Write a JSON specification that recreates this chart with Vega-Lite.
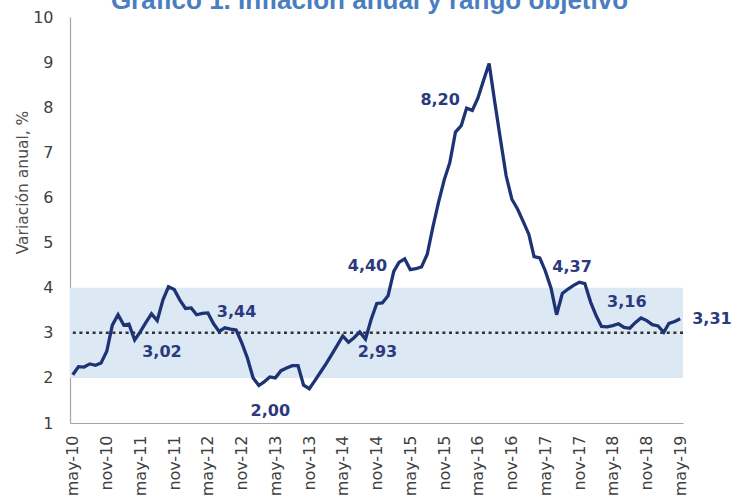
{
  "$schema": "https://vega.github.io/schema/vega-lite/v6.json",
  "autosize": {"type": "none"},
  "padding": {"left": 70, "top": 17, "right": 54, "bottom": 77},
  "width": 613,
  "height": 406,
  "background": "white",
  "title": {
    "text": "Gráfico 1. Inflación anual y rango objetivo",
    "font": "Liberation Sans",
    "fontSize": 26,
    "fontWeight": "bold",
    "color": "#4a7ebf",
    "anchor": "middle",
    "frame": "group",
    "baseline": "alphabetic",
    "offset": -26,
    "dx": -7
  },
  "config": {
    "view": {"stroke": null},
    "locale": {
      "number": {"decimal": ",", "thousands": ".", "grouping": [3], "currency": ["", ""]}
    }
  },
  "data": {
    "values": [
      {"date": "2010-05", "v": 2.07}, {"date": "2010-06", "v": 2.25}, {"date": "2010-07", "v": 2.24}, {"date": "2010-08", "v": 2.31},
      {"date": "2010-09", "v": 2.28}, {"date": "2010-10", "v": 2.33}, {"date": "2010-11", "v": 2.59}, {"date": "2010-12", "v": 3.17},
      {"date": "2011-01", "v": 3.40}, {"date": "2011-02", "v": 3.17}, {"date": "2011-03", "v": 3.19}, {"date": "2011-04", "v": 2.84},
      {"date": "2011-05", "v": 3.02}, {"date": "2011-06", "v": 3.23}, {"date": "2011-07", "v": 3.42}, {"date": "2011-08", "v": 3.27},
      {"date": "2011-09", "v": 3.73}, {"date": "2011-10", "v": 4.02}, {"date": "2011-11", "v": 3.96}, {"date": "2011-12", "v": 3.73},
      {"date": "2012-01", "v": 3.54}, {"date": "2012-02", "v": 3.55}, {"date": "2012-03", "v": 3.40}, {"date": "2012-04", "v": 3.43},
      {"date": "2012-05", "v": 3.44}, {"date": "2012-06", "v": 3.20}, {"date": "2012-07", "v": 3.03}, {"date": "2012-08", "v": 3.11},
      {"date": "2012-09", "v": 3.08}, {"date": "2012-10", "v": 3.06}, {"date": "2012-11", "v": 2.77}, {"date": "2012-12", "v": 2.44},
      {"date": "2013-01", "v": 2.00}, {"date": "2013-02", "v": 1.83}, {"date": "2013-03", "v": 1.91}, {"date": "2013-04", "v": 2.02},
      {"date": "2013-05", "v": 2.00}, {"date": "2013-06", "v": 2.16}, {"date": "2013-07", "v": 2.22}, {"date": "2013-08", "v": 2.27},
      {"date": "2013-09", "v": 2.27}, {"date": "2013-10", "v": 1.84}, {"date": "2013-11", "v": 1.76}, {"date": "2013-12", "v": 1.94},
      {"date": "2014-01", "v": 2.13}, {"date": "2014-02", "v": 2.32}, {"date": "2014-03", "v": 2.51}, {"date": "2014-04", "v": 2.72},
      {"date": "2014-05", "v": 2.93}, {"date": "2014-06", "v": 2.79}, {"date": "2014-07", "v": 2.89}, {"date": "2014-08", "v": 3.02},
      {"date": "2014-09", "v": 2.86}, {"date": "2014-10", "v": 3.29}, {"date": "2014-11", "v": 3.65}, {"date": "2014-12", "v": 3.66},
      {"date": "2015-01", "v": 3.82}, {"date": "2015-02", "v": 4.36}, {"date": "2015-03", "v": 4.56}, {"date": "2015-04", "v": 4.64},
      {"date": "2015-05", "v": 4.40}, {"date": "2015-06", "v": 4.42}, {"date": "2015-07", "v": 4.46}, {"date": "2015-08", "v": 4.74},
      {"date": "2015-09", "v": 5.35}, {"date": "2015-10", "v": 5.89}, {"date": "2015-11", "v": 6.39}, {"date": "2015-12", "v": 6.77},
      {"date": "2016-01", "v": 7.45}, {"date": "2016-02", "v": 7.59}, {"date": "2016-03", "v": 7.98}, {"date": "2016-04", "v": 7.93},
      {"date": "2016-05", "v": 8.20}, {"date": "2016-06", "v": 8.60}, {"date": "2016-07", "v": 8.97}, {"date": "2016-08", "v": 8.10},
      {"date": "2016-09", "v": 7.27}, {"date": "2016-10", "v": 6.48}, {"date": "2016-11", "v": 5.96}, {"date": "2016-12", "v": 5.75},
      {"date": "2017-01", "v": 5.47}, {"date": "2017-02", "v": 5.18}, {"date": "2017-03", "v": 4.69}, {"date": "2017-04", "v": 4.66},
      {"date": "2017-05", "v": 4.37}, {"date": "2017-06", "v": 3.99}, {"date": "2017-07", "v": 3.40}, {"date": "2017-08", "v": 3.87},
      {"date": "2017-09", "v": 3.97}, {"date": "2017-10", "v": 4.05}, {"date": "2017-11", "v": 4.12}, {"date": "2017-12", "v": 4.09},
      {"date": "2018-01", "v": 3.68}, {"date": "2018-02", "v": 3.37}, {"date": "2018-03", "v": 3.14}, {"date": "2018-04", "v": 3.13},
      {"date": "2018-05", "v": 3.16}, {"date": "2018-06", "v": 3.20}, {"date": "2018-07", "v": 3.12}, {"date": "2018-08", "v": 3.10},
      {"date": "2018-09", "v": 3.23}, {"date": "2018-10", "v": 3.33}, {"date": "2018-11", "v": 3.27}, {"date": "2018-12", "v": 3.18},
      {"date": "2019-01", "v": 3.15}, {"date": "2019-02", "v": 3.01}, {"date": "2019-03", "v": 3.21}, {"date": "2019-04", "v": 3.25},
      {"date": "2019-05", "v": 3.31}
    ],
    "format": {"parse": {"date": "date:'%Y-%m'"}}
  },
  "encoding": {
    "x": {
      "field": "date",
      "type": "temporal",
      "scale": {"domain": [{"year": 2010, "month": 4, "date": 16}, {"year": 2019, "month": 5, "date": 16}]},
      "axis": {
        "title": null,
        "values": [
          {"year": 2010, "month": 5, "date": 1}, {"year": 2010, "month": 11, "date": 1},
          {"year": 2011, "month": 5, "date": 1}, {"year": 2011, "month": 11, "date": 1},
          {"year": 2012, "month": 5, "date": 1}, {"year": 2012, "month": 11, "date": 1},
          {"year": 2013, "month": 5, "date": 1}, {"year": 2013, "month": 11, "date": 1},
          {"year": 2014, "month": 5, "date": 1}, {"year": 2014, "month": 11, "date": 1},
          {"year": 2015, "month": 5, "date": 1}, {"year": 2015, "month": 11, "date": 1},
          {"year": 2016, "month": 5, "date": 1}, {"year": 2016, "month": 11, "date": 1},
          {"year": 2017, "month": 5, "date": 1}, {"year": 2017, "month": 11, "date": 1},
          {"year": 2018, "month": 5, "date": 1}, {"year": 2018, "month": 11, "date": 1},
          {"year": 2019, "month": 5, "date": 1}
        ],
        "labelExpr": "(month(datum.value) == 4 ? 'may' : 'nov') + '-' + timeFormat(datum.value, '%y')",
        "labelAngle": -90,
        "labelAlign": "right",
        "labelBaseline": "middle",
        "labelPadding": 12,
        "labelFont": "DejaVu Sans",
        "labelFontSize": 16,
        "labelColor": "#404040",
        "labelOverlap": false,
        "labelFlush": false,
        "ticks": false,
        "grid": false,
        "domainColor": "#a6a6a6",
        "domainWidth": 1.2
      }
    },
    "y": {
      "field": "v",
      "type": "quantitative",
      "scale": {"domain": [1, 10], "nice": false, "zero": false},
      "axis": {
        "title": "Variación anual, %",
        "titleFont": "DejaVu Sans",
        "titleFontSize": 15.5,
        "titleFontWeight": "normal",
        "titleColor": "#4d4d4d",
        "titleX": -48,
        "titleY": 165,
        "titleAngle": -90,
        "titleAlign": "center",
        "titleBaseline": "middle",
        "values": [1, 2, 3, 4, 5, 6, 7, 8, 9, 10],
        "labelFont": "DejaVu Sans",
        "labelFontSize": 16,
        "labelColor": "#404040",
        "labelPadding": 17,
        "ticks": false,
        "grid": false,
        "domainColor": "#a6a6a6",
        "domainWidth": 1.2
      }
    }
  },
  "layer": [
    {
      "data": {"values": [{"lo": 2, "hi": 4}]},
      "mark": {"type": "rect", "color": "#dde8f5"},
      "encoding": {
        "x": null,
        "y": {"field": "lo", "type": "quantitative"},
        "y2": {"field": "hi"}
      }
    },
    {
      "data": {"values": [{"meta": 3}]},
      "mark": {"type": "rule", "color": "#333333", "strokeWidth": 2.5, "strokeDash": [3, 3.6]},
      "encoding": {
        "x": null,
        "y": {"field": "meta", "type": "quantitative"}
      }
    },
    {
      "mark": {"type": "line", "color": "#1d3374", "strokeWidth": 3.3, "strokeJoin": "miter"}
    },
    {
      "transform": [{"filter": "year(datum.date) == 2011 && month(datum.date) == 4"}],
      "mark": {"type": "text", "font": "DejaVu Sans", "fontSize": 16, "fontWeight": "bold", "color": "#2b3a7e", "align": "left", "baseline": "middle", "dx": 2, "dy": 20},
      "encoding": {"text": {"field": "v", "type": "quantitative", "format": ".2f"}}
    },
    {
      "transform": [{"filter": "year(datum.date) == 2012 && month(datum.date) == 4"}],
      "mark": {"type": "text", "font": "DejaVu Sans", "fontSize": 16, "fontWeight": "bold", "color": "#2b3a7e", "align": "left", "baseline": "middle", "dx": 9, "dy": -1},
      "encoding": {"text": {"field": "v", "type": "quantitative", "format": ".2f"}}
    },
    {
      "transform": [{"filter": "year(datum.date) == 2013 && month(datum.date) == 4"}],
      "mark": {"type": "text", "font": "DejaVu Sans", "fontSize": 16, "fontWeight": "bold", "color": "#2b3a7e", "align": "center", "baseline": "middle", "dx": -5, "dy": 33},
      "encoding": {"text": {"field": "v", "type": "quantitative", "format": ".2f"}}
    },
    {
      "transform": [{"filter": "year(datum.date) == 2014 && month(datum.date) == 4"}],
      "mark": {"type": "text", "font": "DejaVu Sans", "fontSize": 16, "fontWeight": "bold", "color": "#2b3a7e", "align": "left", "baseline": "middle", "dx": 15, "dy": 16},
      "encoding": {"text": {"field": "v", "type": "quantitative", "format": ".2f"}}
    },
    {
      "transform": [{"filter": "year(datum.date) == 2015 && month(datum.date) == 4"}],
      "mark": {"type": "text", "font": "DejaVu Sans", "fontSize": 16, "fontWeight": "bold", "color": "#2b3a7e", "align": "right", "baseline": "middle", "dx": -23, "dy": -4},
      "encoding": {"text": {"field": "v", "type": "quantitative", "format": ".2f"}}
    },
    {
      "transform": [{"filter": "year(datum.date) == 2016 && month(datum.date) == 4"}],
      "mark": {"type": "text", "font": "DejaVu Sans", "fontSize": 16, "fontWeight": "bold", "color": "#2b3a7e", "align": "right", "baseline": "middle", "dx": -18, "dy": 2},
      "encoding": {"text": {"field": "v", "type": "quantitative", "format": ".2f"}}
    },
    {
      "transform": [{"filter": "year(datum.date) == 2017 && month(datum.date) == 4"}],
      "mark": {"type": "text", "font": "DejaVu Sans", "fontSize": 16, "fontWeight": "bold", "color": "#2b3a7e", "align": "left", "baseline": "middle", "dx": 7, "dy": -4},
      "encoding": {"text": {"field": "v", "type": "quantitative", "format": ".2f"}}
    },
    {
      "transform": [{"filter": "year(datum.date) == 2018 && month(datum.date) == 4"}],
      "mark": {"type": "text", "font": "DejaVu Sans", "fontSize": 16, "fontWeight": "bold", "color": "#2b3a7e", "align": "center", "baseline": "middle", "dx": 14, "dy": -24},
      "encoding": {"text": {"field": "v", "type": "quantitative", "format": ".2f"}}
    },
    {
      "transform": [{"filter": "year(datum.date) == 2019 && month(datum.date) == 4"}],
      "mark": {"type": "text", "font": "DejaVu Sans", "fontSize": 16, "fontWeight": "bold", "color": "#2b3a7e", "align": "left", "baseline": "middle", "dx": 12, "dy": 0},
      "encoding": {"text": {"field": "v", "type": "quantitative", "format": ".2f"}}
    }
  ]
}
